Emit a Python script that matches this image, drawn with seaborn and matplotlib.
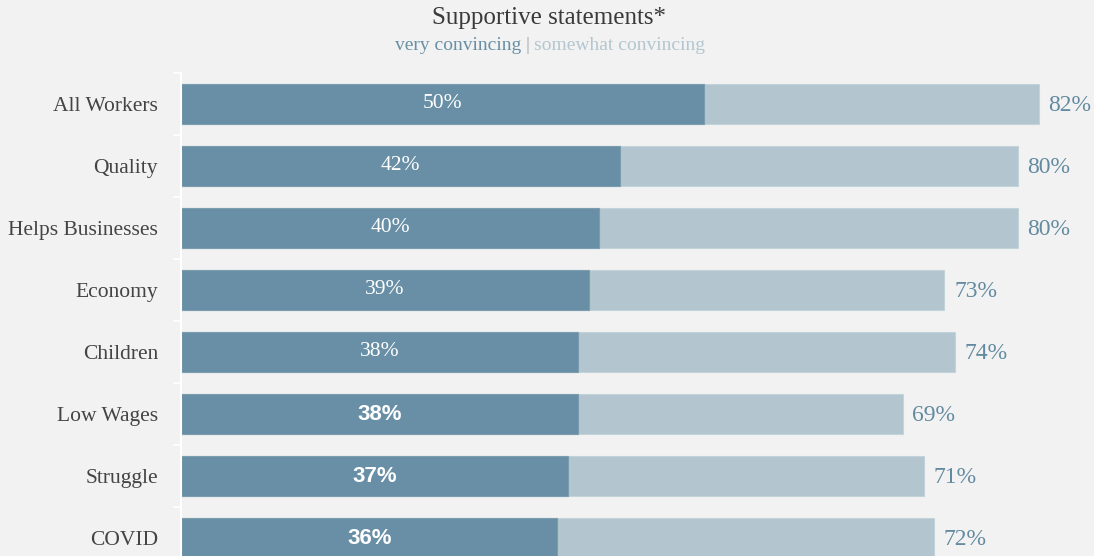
import matplotlib
matplotlib.use("Agg")
import matplotlib.pyplot as plt
import seaborn as sns
import pandas as pd
import numpy as np

categories = ["All Workers", "Quality", "Helps Businesses", "Economy",
              "Children", "Low Wages", "Struggle", "COVID"]
very_convincing = [50, 42, 40, 39, 38, 38, 37, 36]
total_convincing = [82, 80, 80, 73, 74, 69, 71, 72]
bold_label = [False, False, False, False, False, True, True, True]

DARK = "#688fa5"
LIGHT = "#b3c6cf"
BG = "#f2f2f2"
TEXT = "#444444"
TOTAL_TXT = "#628aa0"
SERIF = "Liberation Serif"
SANS = "Liberation Sans"

df = pd.DataFrame({"category": categories,
                   "very": very_convincing,
                   "total": total_convincing})

sns.set_theme(style="white")
plt.rcParams["font.family"] = [SERIF, "DejaVu Serif"]

fig = plt.figure(figsize=(10.94, 5.56), dpi=100, facecolor=BG)
ax = fig.add_axes([181 / 1094, -13 / 556, 913 / 1094, 496 / 556])
ax.set_facecolor(BG)

sns.barplot(data=df, y="category", x="total", color=LIGHT, saturation=1,
            width=0.645, edgecolor="#c3d3da", linewidth=0.8, ax=ax, orient="h")
sns.barplot(data=df, y="category", x="very", color=DARK, saturation=1,
            width=0.645, edgecolor="#7c9db0", linewidth=0.8, ax=ax, orient="h")

ax.set_xlim(0, 87.3)
ax.set_ylim(len(categories) - 0.5, -0.5)
ax.set_xlabel("")
ax.set_ylabel("")
ax.set_xticks([])

for s in ["top", "right", "bottom"]:
    ax.spines[s].set_visible(False)
ax.spines["left"].set_color("white")
ax.spines["left"].set_linewidth(1.5)

ax.set_yticks(range(len(categories)))
ax.set_yticklabels(categories, fontsize=15.5, color=TEXT, family=SERIF)
ax.tick_params(axis="y", which="major", left=False, length=0, pad=16.5)
ax.set_yticks(np.arange(-0.5, len(categories), 1), minor=True)
ax.tick_params(axis="y", which="minor", left=True, length=5.5, width=1.2,
               color="white")

for i, (v, t, b) in enumerate(zip(very_convincing, total_convincing, bold_label)):
    if b:
        ax.text(v / 2, i, f"{v}%", ha="center", va="center", color="white",
                fontsize=16, fontweight="bold", family=SANS)
    else:
        ax.text(v / 2, i, f"{v}%", ha="center", va="center", color="white",
                fontsize=15.5, family=SERIF)
    ax.annotate(f"{t}%", xy=(t, i), xytext=(7, -1), textcoords="offset points",
                ha="left", va="center", color=TOTAL_TXT, fontsize=17, family=SERIF)

fig.text(0.5015, 1 - 18 / 556, "Supportive statements*", ha="center", va="center",
         fontsize=18, color="#3a3a3a", family=SERIF)

# legend-style subtitle: three colored pieces laid out side by side
fig.canvas.draw()
renderer = fig.canvas.get_renderer()
parts = [("very convincing", DARK), ("|", "#aaaaaa"), ("somewhat convincing", LIGHT)]
gap = 4
y_sub = 1 - 46 / 556
texts = []
widths = []
for s, c in parts:
    t = fig.text(0, y_sub, s, ha="left", va="center", fontsize=14, color=c, family=SERIF)
    texts.append(t)
    widths.append(t.get_window_extent(renderer).width)
total_w = sum(widths) + gap * (len(parts) - 1)
x0 = 550 - total_w / 2
for t, w in zip(texts, widths):
    t.set_x(x0 / 1094)
    x0 += w + gap

fig.savefig("out.png", dpi=100, facecolor=BG)
